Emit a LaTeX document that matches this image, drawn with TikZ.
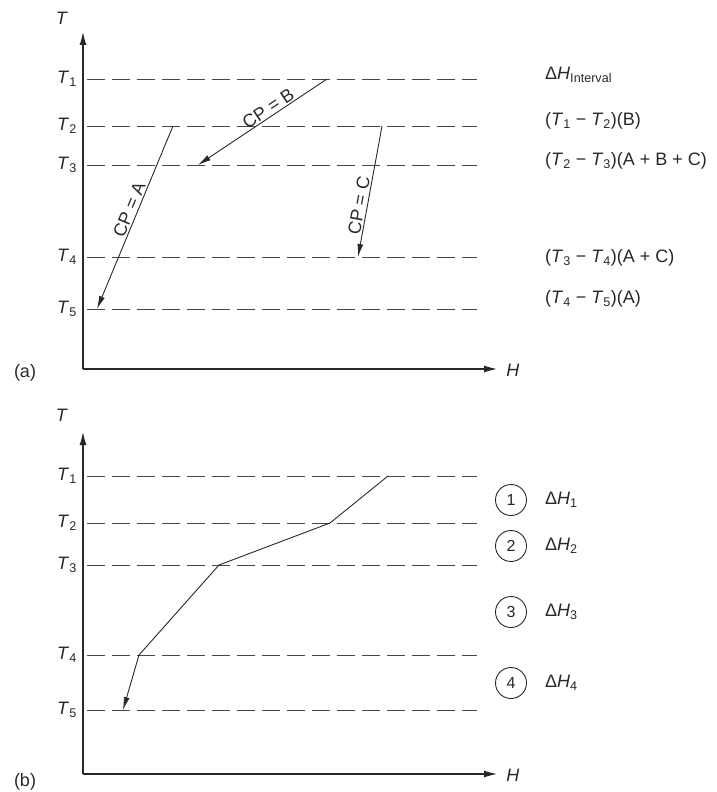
\documentclass[tikz,border=0pt]{standalone}
\usepackage{fontspec}
\setmainfont{Liberation Sans}
\usetikzlibrary{arrows.meta}
\definecolor{cink}{RGB}{40,40,40}
\definecolor{cdash}{RGB}{70,70,70}
\newcommand{\tsub}[2]{\textit{#1}\textsubscript{#2}}

\begin{document}
\begin{tikzpicture}[x=1pt,y=-1pt,
  font=\fontsize{18}{21}\selectfont, text=cink,
  tlab/.style={anchor=east,inner sep=0pt},
  rlab/.style={anchor=west,inner sep=0pt},
  level/.style={cdash,line width=0.9pt,dash pattern=on 18pt off 7pt},
  axis/.style={cink,line width=1.1pt,-{Latex[length=13pt,width=7pt]}},
  arr/.style={cink,line width=0.9pt,-{Latex[length=13pt,width=6pt]}},
  cplab/.style={sloped,above,inner sep=1.5pt,pos=#1},
  circ/.style={circle,draw=cink,line width=0.9pt,minimum size=31pt,inner sep=0pt,
    font=\fontsize{16}{19}\selectfont},
]
\useasboundingbox (0,0) rectangle (717,792);
% --- (a) temperature intervals with the three streams ---
\coordinate (Oa) at (83,369); \coordinate (Ya) at (83,32); \coordinate (Xa) at (497,369);
\draw[axis] (Oa) -- (Ya); \draw[axis] (Oa) -- (Xa);
\node (Tya) at (62,18) {\textit{T}};
\node (Hxa) at (513,370) {\textit{H}};
\node (lbla) at (25,373) {(a)};
\foreach \y/\n in {79/1,126/2,165/3,257/4,309/5}{
  \node[tlab] (Ta\n) at (77,\y) {\tsub{T}{\n}};
  \draw[level] (87,\y) -- (477,\y);
}
\coordinate (b0) at (327,79);  \coordinate (b1) at (198,165);
\coordinate (a0) at (173,126); \coordinate (a1) at (97,309);
\coordinate (c0) at (382,126); \coordinate (c1) at (358,257);
\draw[arr] (b0) -- node[cplab=0.42]{CP = B} (b1);
\draw[arr] (a0) -- node[cplab=0.475]{CP = A} (a1);
\draw[arr] (c0) -- node[cplab=0.62]{CP = C} (c1);
\node[rlab] (dHa) at (545,75) {Δ\textit{H}\textsubscript{Interval}};
\node[rlab] (r1) at (545,121) {(\tsub{T}{1} − \tsub{T}{2})(B)};
\node[rlab] (r2) at (545,161) {(\tsub{T}{2} − \tsub{T}{3})(A + B + C)};
\node[rlab] (r3) at (545,258) {(\tsub{T}{3} − \tsub{T}{4})(A + C)};
\node[rlab] (r4) at (545,299) {(\tsub{T}{4} − \tsub{T}{5})(A)};
% --- (b) composite curve ---
\coordinate (Ob) at (83,774); \coordinate (Yb) at (83,432); \coordinate (Xb) at (497,774);
\draw[axis] (Ob) -- (Yb); \draw[axis] (Ob) -- (Xb);
\node (Tyb) at (62,415) {\textit{T}};
\node (Hxb) at (513,775) {\textit{H}};
\node (lblb) at (25,782) {(b)};
\foreach \y/\n in {476/1,523/2,565/3,655/4,710/5}{
  \node[tlab] (Tb\n) at (77,\y) {\tsub{T}{\n}};
  \draw[level] (87,\y) -- (477,\y);
}
\coordinate (p1) at (388,476); \coordinate (p2) at (330,523);
\coordinate (p3) at (219,565); \coordinate (p4) at (139,655);
\coordinate (p5) at (123,710);
\draw[arr] (p1) -- (p2) -- (p3) -- (p4) -- (p5);
\foreach \y/\n in {500/1,546/2,612/3,683/4}{
  \node[circ] (k\n) at (511,\y) {\n};
  \node[rlab] (dH\n) at (545,\y) {Δ\tsub{H}{\n}};
}
\end{tikzpicture}
\end{document}
